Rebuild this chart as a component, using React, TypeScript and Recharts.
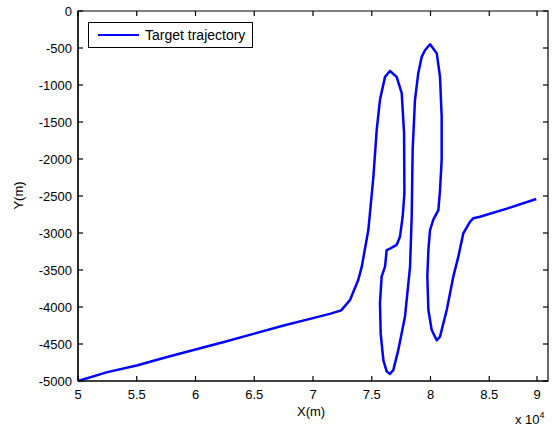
import { Line, LineChart, ReferenceArea, XAxis, YAxis } from "recharts";

// trajectory points in drawing order
const trajX = [
  50000, 52500, 55000, 57500, 60000, 62500, 65000, 67500, 70000, 71500, 72400,
  73150, 73850, 74150, 74710, 75140, 75420, 75700, 76130, 76550, 77120, 77550,
  77750, 77780, 77630, 77400, 77120, 76550, 76270, 76130, 75840, 75700, 75760,
  75990, 76270, 76550, 76840, 77260, 77830, 78260, 78400, 78480, 78680, 78960,
  79250, 79530, 79960, 80530, 80810, 80950, 80950, 80810, 80670, 80240, 79960,
  79820, 79730, 79820, 80100, 80530, 80810, 81380, 81940, 82370, 82790, 83360,
  83650, 84210, 86500, 89000,
];
const trajY = [
  -5000, -4880, -4790, -4680, -4575, -4470, -4360, -4250, -4150, -4090, -4045,
  -3905, -3635, -3455, -2960, -2240, -1610, -1200, -890, -810, -890, -1110,
  -1650, -2460, -2780, -3050, -3160, -3210, -3230, -3455, -3590, -3950, -4360,
  -4720, -4870, -4905, -4850, -4580, -4130, -3455, -2780, -1880, -1200, -840,
  -620, -530, -450, -570, -890, -1430, -2010, -2420, -2690, -2820, -2960,
  -3230, -3590, -4040, -4310, -4450, -4400, -4040, -3590, -3320, -3005, -2850,
  -2800, -2780, -2670, -2540,
];

const xTicks = [50000, 55000, 60000, 65000, 70000, 75000, 80000, 85000, 90000];
const yTicks = [0, -500, -1000, -1500, -2000, -2500, -3000, -3500, -4000, -4500, -5000];

const rows = trajX.map((x, i) => ({ x, y: trajY[i] }));

const axisColor = "#000";
const font = "Arial, 'Liberation Sans', sans-serif";
const tickStyle = { fontSize: 13, fill: "#000", fontFamily: font };

// plot box size, used for the inward ticks on the opposite side
const PLOT_W = 470;
const PLOT_H = 370;

function BottomTick(props: any) {
  const { x, y, payload } = props;
  const base = y - 6;
  return (
    <g>
      <line x1={x} x2={x} y1={base} y2={base - 5} stroke={axisColor} strokeWidth={1.2} />
      <line x1={x} x2={x} y1={base - PLOT_H} y2={base - PLOT_H + 5} stroke={axisColor} strokeWidth={1.2} />
      <text x={x} y={y} dy="0.9em" textAnchor="middle" {...tickStyle}>
        {String(payload.value / 10000)}
      </text>
    </g>
  );
}

function LeftTick(props: any) {
  const { x, y, payload } = props;
  const base = x + 6;
  return (
    <g>
      <line x1={base} x2={base + 5} y1={y} y2={y} stroke={axisColor} strokeWidth={1.2} />
      <line x1={base + PLOT_W} x2={base + PLOT_W - 5} y1={y} y2={y} stroke={axisColor} strokeWidth={1.2} />
      <text x={x} y={y} dy="0.35em" textAnchor="end" {...tickStyle}>
        {String(payload.value)}
      </text>
    </g>
  );
}

const overlayText = { position: "absolute" as const, fontFamily: font, fontSize: 13, color: "#000", lineHeight: "15px" };

export default function App() {
  return (
    <div style={{ position: "absolute", left: 0, top: 0, width: 557, height: 430, background: "#fff" }}>
      <LineChart width={557} height={430} data={rows} margin={{ top: 11, right: 9, left: 0, bottom: 0 }}>
        <XAxis
          dataKey="x"
          type="number"
          domain={[50000, 90000]}
          ticks={xTicks}
          tick={<BottomTick />}
          tickLine={false}
          tickSize={0}
          tickMargin={6}
          height={49}
          axisLine={{ stroke: axisColor, strokeWidth: 1.2 }}
        />
        <YAxis
          dataKey="y"
          type="number"
          domain={[-5000, 0]}
          ticks={yTicks}
          tick={<LeftTick />}
          tickLine={false}
          tickSize={0}
          tickMargin={6}
          width={78}
          axisLine={{ stroke: axisColor, strokeWidth: 1.2 }}
        />
        {/* axes box drawn through the scales */}
        <ReferenceArea
          x1={50000}
          x2={90000}
          y1={-5000}
          y2={0}
          fill="none"
          fillOpacity={0}
          stroke={axisColor}
          strokeWidth={1.2}
          strokeOpacity={1}
          ifOverflow="visible"
        />
        <Line
          type="linear"
          dataKey="y"
          stroke="#0000ff"
          strokeWidth={2.5}
          strokeLinejoin="round"
          dot={false}
          isAnimationActive={false}
        />
      </LineChart>
      <div style={{ ...overlayText, left: 297, top: 404 }}>X(m)</div>
      <div style={{ ...overlayText, left: 4, top: 188, transform: "rotate(-90deg)", transformOrigin: "center" }}>Y(m)</div>
      <div
        style={{
          position: "absolute",
          left: 88,
          top: 22,
          width: 165,
          height: 26,
          boxSizing: "border-box",
          border: "1px solid #000",
          background: "#fff",
          display: "flex",
          alignItems: "center",
          fontFamily: font,
          fontSize: 14,
          color: "#000",
        }}
      >
        <span style={{ display: "inline-block", width: 41, height: 2, background: "#0000ff", marginLeft: 9, marginRight: 6 }} />
        Target trajectory
      </div>
      <div style={{ ...overlayText, left: 515, top: 408 }}>
        x 10<sup style={{ fontSize: 9, verticalAlign: "6px" }}>4</sup>
      </div>
    </div>
  );
}
